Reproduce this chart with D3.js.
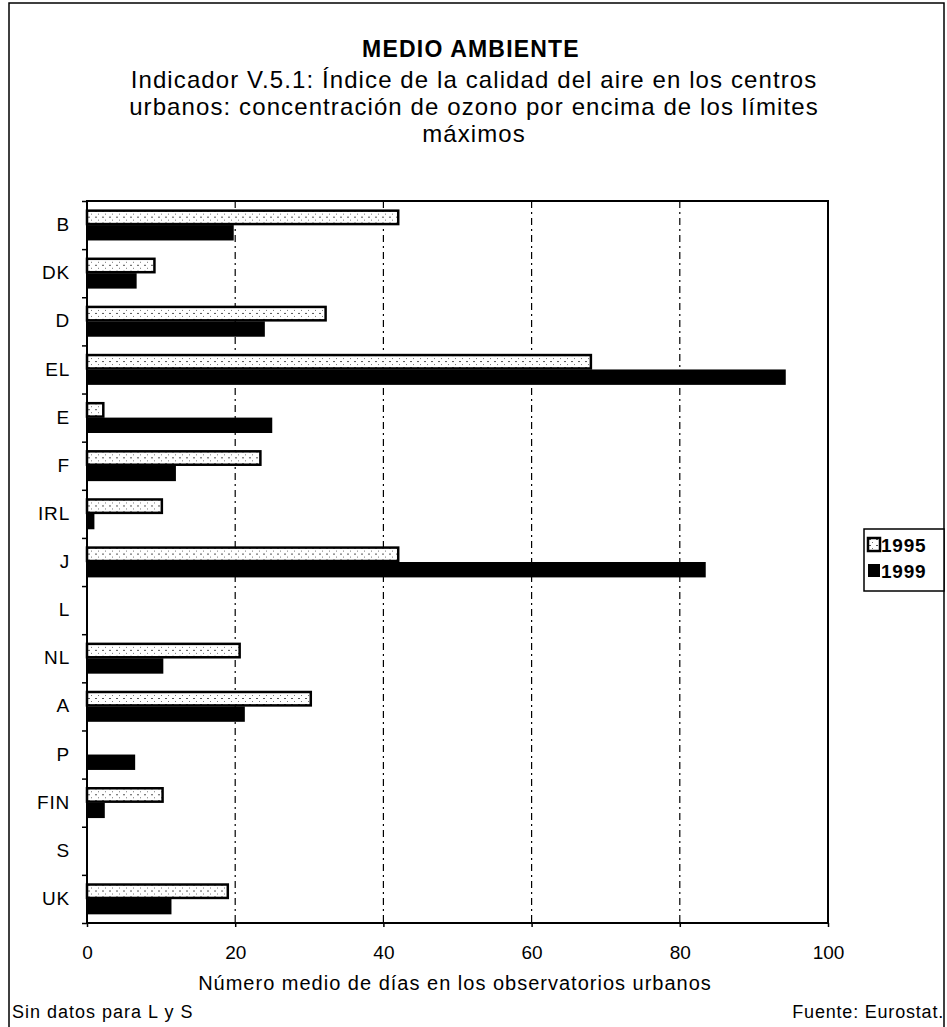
<!DOCTYPE html>
<html>
<head>
<meta charset="utf-8">
<script src="https://cdn.jsdelivr.net/npm/d3@7"></script>
<style>
  body { margin: 0; background: #fff; }
  svg text { font-family: "Liberation Sans", Arial, sans-serif; fill: #000; }
</style>
</head>
<body>
<div id="chart"></div>
<script>
// DATA
let countries = ["B", "DK", "D", "EL", "E", "F", "IRL", "J", "L", "NL", "A", "P", "FIN", "S", "UK"];
let values1995 = [42.0, 9.1, 32.2, 68.0, 2.2, 23.4, 10.1, 42.0, null, 20.6, 30.2, 0, 10.2, null, 19.0];
let values1999 = [19.8, 6.7, 24.0, 94.3, 25.0, 12.0, 1.0, 83.5, null, 10.3, 21.3, 6.5, 2.4, null, 11.4];
let seriesNames = ["1995", "1999"];
let xTicks = [0, 20, 40, 60, 80, 100];

let titleLines = ["Indicador V.5.1: Índice de la calidad del aire en los centros",
                  "urbanos: concentración de ozono por encima de los límites",
                  "máximos"];

let data = countries.map((c, i) => ({country: c, v: [values1995[i], values1999[i]]}));

// CHART AREA
let W = 947, H = 1027;
let margin = {top: 201, left: 87, right: 119, bottom: 104};
let width = W - margin.left - margin.right,
    height = H - margin.top - margin.bottom;

let svg = d3.select("#chart").append("svg")
    .attr("width", W)
    .attr("height", H);

// outer frame
svg.append("rect")
    .attr("x", 9).attr("y", 3)
    .attr("width", 935).attr("height", 1030)
    .attr("fill", "none").attr("stroke", "#000").attr("stroke-width", 1.5);

// stipple pattern for 1995 bars
let defs = svg.append("defs");
let pat = defs.append("pattern")
    .attr("id", "stip").attr("patternUnits", "userSpaceOnUse")
    .attr("width", 7).attr("height", 6);
pat.append("rect").attr("width", 7).attr("height", 6).attr("fill", "#fff");
pat.append("rect").attr("x", 1).attr("y", 1).attr("width", 2).attr("height", 1).attr("fill", "#555");
pat.append("rect").attr("x", 4).attr("y", 4).attr("width", 1).attr("height", 1).attr("fill", "#777");

// titles
svg.append("text")
    .attr("x", 471).attr("y", 57)
    .attr("text-anchor", "middle")
    .attr("font-size", 23).attr("font-weight", "bold")
    .attr("letter-spacing", 1.2)
    .text("MEDIO AMBIENTE");

svg.selectAll(".subtitle")
    .data(titleLines)
    .enter().append("text")
    .attr("class", "subtitle")
    .attr("x", 474)
    .attr("y", (d, i) => 88 + i * 27)
    .attr("text-anchor", "middle")
    .attr("font-size", 24)
    .attr("letter-spacing", 1.1)
    .text(d => d);

let g = svg.append("g")
    .attr("transform", "translate(" + margin.left + "," + margin.top + ")");

// SCALES
let x = d3.scaleLinear().domain([0, 100]).range([0, width]);

let y0 = d3.scaleBand()
    .domain(countries)
    .range([0, height])
    .paddingInner(0.36)
    .paddingOuter(0.18);

let y1 = d3.scaleBand()
    .domain([0, 1])
    .range([0, y0.bandwidth()]);

let yEdge = d3.scaleLinear().domain([0, countries.length]).range([0, height]);

// gridlines
g.selectAll(".grid")
    .data(xTicks.filter(t => t > 0 && t < 100))
    .enter().append("line")
    .attr("class", "grid")
    .attr("x1", d => x(d)).attr("x2", d => x(d))
    .attr("y1", 0).attr("y2", height)
    .attr("stroke", "#000").attr("stroke-width", 1.2)
    .attr("stroke-dasharray", "7,4,2,4");

// BARS
let groups = g.selectAll(".grp")
    .data(data)
    .enter().append("g")
    .attr("class", "grp")
    .attr("transform", d => "translate(0," + y0(d.country) + ")");

groups.selectAll("rect")
    .data(d => d.v.map((v, i) => ({v: v, i: i})).filter(e => e.v !== null && e.v > 0))
    .enter().append("rect")
    .attr("x", x(0))
    .attr("y", d => y1(d.i) + (d.i === 0 ? 1 : 0))
    .attr("width", d => x(d.v) - x(0))
    .attr("height", d => y1.bandwidth() - (d.i === 0 ? 2 : 0))
    .attr("fill", d => d.i === 0 ? "url(#stip)" : "#000")
    .attr("stroke", "#000")
    .attr("stroke-width", d => d.i === 0 ? 2.5 : 0);

// plot border
g.append("rect")
    .attr("x", 0).attr("y", 0)
    .attr("width", width).attr("height", height)
    .attr("fill", "none").attr("stroke", "#000").attr("stroke-width", 2);

// AXES
let xAxis = d3.axisBottom(x).tickValues(xTicks).tickSize(4).tickFormat(d3.format("d"));
let xAxisGroup = g.append("g")
    .attr("transform", "translate(0," + height + ")")
    .call(xAxis);
xAxisGroup.select(".domain").remove();
xAxisGroup.selectAll("line").attr("stroke-width", 1.5);
xAxisGroup.selectAll("text")
    .attr("dy", null).attr("y", 36)
    .attr("font-size", 19);

// category edge ticks
let yTickAxis = d3.axisLeft(yEdge).tickValues(d3.range(countries.length + 1)).tickSize(5).tickFormat("");
let yTickGroup = g.append("g").call(yTickAxis);
yTickGroup.select(".domain").remove();
yTickGroup.selectAll("line").attr("stroke-width", 1.5);

let yAxis = d3.axisLeft(y0).tickSize(0).tickPadding(17);
let yAxisGroup = g.append("g").call(yAxis);
yAxisGroup.select(".domain").remove();
yAxisGroup.selectAll("text").attr("font-size", 19).attr("letter-spacing", 0.8);

// axis title
svg.append("text")
    .attr("x", 455).attr("y", 990)
    .attr("text-anchor", "middle")
    .attr("font-size", 20)
    .attr("letter-spacing", 1)
    .text("Número medio de días en los observatorios urbanos");

// footer
svg.append("text")
    .attr("x", 12).attr("y", 1018)
    .attr("font-size", 18)
    .attr("letter-spacing", 1)
    .text("Sin datos para L y S");
svg.append("text")
    .attr("x", 944).attr("y", 1018)
    .attr("text-anchor", "end")
    .attr("font-size", 18)
    .attr("letter-spacing", 0.8)
    .text("Fuente: Eurostat.");

// LEGEND
let legend = svg.append("g").attr("transform", "translate(864,529)");
legend.append("rect")
    .attr("width", 80).attr("height", 62)
    .attr("fill", "#fff").attr("stroke", "#000").attr("stroke-width", 1.5);
let li = legend.selectAll(".li")
    .data(seriesNames)
    .enter().append("g")
    .attr("class", "li")
    .attr("transform", (d, i) => "translate(4," + (9 + i * 26) + ")");
li.append("rect")
    .attr("width", 12).attr("height", 13)
    .attr("fill", (d, i) => i === 0 ? "url(#stip)" : "#000")
    .attr("stroke", "#000").attr("stroke-width", (d, i) => i === 0 ? 2.5 : 0);
li.append("text")
    .attr("x", 13).attr("y", 14)
    .attr("font-size", 19).attr("font-weight", "bold")
    .attr("letter-spacing", 0.8)
    .text(d => d);
</script>
</body>
</html>
